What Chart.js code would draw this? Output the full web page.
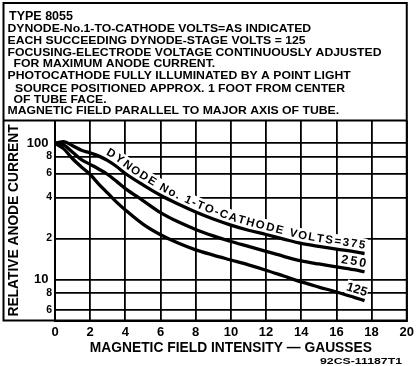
<!DOCTYPE html>
<html>
<head>
<meta charset="utf-8">
<script src="https://cdn.jsdelivr.net/npm/chart.js@4.4.1/dist/chart.umd.min.js"></script>
<style>
    html, body { margin: 0; padding: 0; background: #fff; }
    canvas { display: block; }
</style>
</head>
<body>
<canvas id="gainChart" width="418" height="366"></canvas>
<script>
// values (gauss / relative anode current)
const fieldGauss = [0, 0.5, 1, 1.5, 2, 2.5, 3, 3.5, 4, 5, 6, 7, 8, 9, 10, 11, 12, 13, 14, 15, 16, 17, 17.6];
const current375 = [100, 103, 96, 89, 85, 80.5, 74.5, 67.5, 60, 49.5, 41.5, 35.8, 31.3, 27.8, 25.1, 23, 21.4, 19.8, 18.4, 17.5, 16.7, 16.0, 15.5];
const current250 = [100, 97, 86, 76, 70, 64.5, 59, 52.5, 46.5, 38, 31, 26.5, 23.3, 20.9, 19, 17.5, 16.1, 14.8, 13.7, 13.0, 12.4, 11.8, 11.4];
const current125 = [100, 91, 77, 67, 59, 50, 43, 37, 32.4, 25.5, 21.3, 18.5, 16.5, 15.1, 13.9, 12.8, 11.7, 10.6, 9.6, 8.8, 8.1, 7.4, 7.0];

const curveLabels = ['DYNODE No. 1-TO-CATHODE VOLTS=375', '250', '125'];
const xTicks = [0, 2, 4, 6, 8, 10, 12, 14, 16, 18, 20];
const yTickValues = [6, 8, 10, 20, 40, 60, 80, 100];
const yTickLabels = ['6', '8', '10', '2', '4', '6', '8', '100'];

const headerLines = [
    'TYPE 8055',
    'DYNODE-No.1-TO-CATHODE VOLTS=AS INDICATED',
    'EACH SUCCEEDING DYNODE-STAGE VOLTS = 125',
    'FOCUSING-ELECTRODE VOLTAGE CONTINUOUSLY ADJUSTED',
    'FOR MAXIMUM ANODE CURRENT.',
    'PHOTOCATHODE FULLY ILLUMINATED BY A POINT LIGHT',
    'SOURCE POSITIONED APPROX. 1 FOOT FROM CENTER',
    'OF TUBE FACE.',
    'MAGNETIC FIELD PARALLEL TO MAJOR AXIS OF TUBE.'
];
const sheetCode = '92CS-11187T1';

const FONT = '"Liberation Sans", Arial, sans-serif';

// where the header lines start / sit (px)
const headerX = [9, 7.5, 7.5, 7.5, 13.5, 7.5, 15, 13.5, 7.5];
const headerY = [20, 31.8, 43.6, 55.5, 67, 79.2, 91.5, 102.8, 114.2];

// label spans along each curve, in gauss
const labelSpans = [[2.75, 17.55], [16.2, 17.6], [16.45, 17.6]];


// sample the bezier that chart.js drew for a dataset
function sampleCurve(points) {
    const out = [{ x: points[0].x, y: points[0].y }];
    for (let i = 0; i < points.length - 1; i++) {
        const a = points[i], b = points[i + 1];
        const c1x = a.cp2x ?? a.x, c1y = a.cp2y ?? a.y;
        const c2x = b.cp1x ?? b.x, c2y = b.cp1y ?? b.y;
        for (let k = 1; k <= 20; k++) {
            const t = k / 20, u = 1 - t;
            out.push({
                x: u * u * u * a.x + 3 * u * u * t * c1x + 3 * u * t * t * c2x + t * t * t * b.x,
                y: u * u * u * a.y + 3 * u * u * t * c1y + 3 * u * t * t * c2y + t * t * t * b.y
            });
        }
    }
    let s = 0;
    out.forEach((p, i) => {
        if (i > 0) s += Math.hypot(p.x - out[i - 1].x, p.y - out[i - 1].y);
        p.s = s;
    });
    return out;
}

function arcAtX(path, x) {
    for (let i = 1; i < path.length; i++) {
        if (path[i].x >= x) {
            const a = path[i - 1], b = path[i];
            const t = (x - a.x) / ((b.x - a.x) || 1);
            return a.s + t * (b.s - a.s);
        }
    }
    return path[path.length - 1].s;
}

function pointAtArc(path, s) {
    s = Math.max(0, Math.min(s, path[path.length - 1].s));
    for (let i = 1; i < path.length; i++) {
        if (path[i].s >= s) {
            const a = path[i - 1], b = path[i];
            const t = (s - a.s) / ((b.s - a.s) || 1);
            return { x: a.x + t * (b.x - a.x), y: a.y + t * (b.y - a.y) };
        }
    }
    return path[path.length - 1];
}

// letters placed along a curve, with a white band under them that breaks the grid
function textAlongCurve(ctx, path, text, x0, x1, lift, capH) {
    const chars = [...text];
    const widths = chars.map(ch => ctx.measureText(ch).width);
    const s0 = arcAtX(path, x0), s1 = arcAtX(path, x1);
    const total = widths.reduce((a, b) => a + b, 0);
    const gap = chars.length > 1 ? (s1 - s0 - total) / (chars.length - 1) : 0;
    let s = s0;
    chars.forEach((ch, i) => {
        const mid = s + widths[i] / 2;
        const p = pointAtArc(path, mid);
        const p1 = pointAtArc(path, mid - 4), p2 = pointAtArc(path, mid + 4);
        const ang = Math.atan2(p2.y - p1.y, p2.x - p1.x);
        ctx.save();
        ctx.translate(p.x + Math.sin(ang) * lift, p.y - Math.cos(ang) * lift);
        ctx.rotate(ang);
        ctx.fillStyle = '#fff';
        ctx.fillRect(-widths[i] / 2 - gap / 2 - 0.6, -capH - 2, widths[i] + gap + 1.2, capH + 2 + lift);
        ctx.fillStyle = '#000';
        ctx.fillText(ch, 0, 0);
        ctx.restore();
        s += widths[i] + gap;
    });
}

function fittedText(ctx, text, x, y, sx) {
    ctx.save();
    ctx.translate(x, y);
    ctx.scale(sx, 1);
    ctx.fillText(text, 0, 0);
    ctx.restore();
}

const sheetPlugin = {
    id: 'sheet',
    beforeDatasetsDraw(chart) {
        const ctx = chart.ctx;
        const xs = chart.scales.x;
        ctx.save();
        ctx.textAlign = 'center';
        ctx.textBaseline = 'alphabetic';
        curveLabels.forEach((label, i) => {
            const path = sampleCurve(chart.getDatasetMeta(i).data);
            const size = i === 0 ? 11.5 : 12.5;
            ctx.font = 'bold ' + size + 'px ' + FONT;
            textAlongCurve(ctx, path, label,
                xs.getPixelForValue(labelSpans[i][0]),
                xs.getPixelForValue(labelSpans[i][1]),
                4.5, size * 0.73);
        });
        ctx.restore();
    },
    afterDraw(chart) {
        const ctx = chart.ctx;
        const area = chart.chartArea;
        ctx.save();
        // outer frame and the rule under the notes
        ctx.strokeStyle = '#000';
        ctx.lineWidth = 2;
        ctx.strokeRect(3.5, 3, area.right - 3.5, area.bottom - 3);
        ctx.beginPath();
        ctx.moveTo(3.5, area.top);
        ctx.lineTo(area.right, area.top);
        ctx.stroke();

        // notes
        ctx.fillStyle = '#000';
        ctx.textAlign = 'left';
        ctx.textBaseline = 'alphabetic';
        ctx.font = 'bold 10px ' + FONT;
        const sx = 374 / ctx.measureText(headerLines[3]).width;
        headerLines.forEach((line, i) => {
            if (i === 0) {
                ctx.font = 'bold 12px ' + FONT;
                fittedText(ctx, line, headerX[i], headerY[i], 64 / ctx.measureText(line).width);
                ctx.font = 'bold 10px ' + FONT;
            } else {
                fittedText(ctx, line, headerX[i], headerY[i], sx);
            }
        });

        // drawing number
        ctx.font = 'bold 9.5px ' + FONT;
        const w = ctx.measureText(sheetCode).width;
        fittedText(ctx, sheetCode, 320, 364, 82 / w);
        ctx.restore();
    }
};

const ctx = document.getElementById('gainChart').getContext('2d');
const gainChart = new Chart(ctx, {
    type: 'line',
    data: {
        datasets: [current375, current250, current125].map(series => ({
            data: fieldGauss.map((g, i) => ({ x: g, y: series[i] })),
            borderColor: '#000',
            borderWidth: 3.3,
            pointRadius: 0,
            fill: false,
            cubicInterpolationMode: 'monotone'
        }))
    },
    options: {
        responsive: false,
        animation: false,
        layout: { padding: { left: 0, top: 120.5, right: 11, bottom: 0 } },
        plugins: {
            legend: { display: false },
            tooltip: { enabled: false }
        },
        scales: {
            x: {
                type: 'linear',
                min: 0,
                max: 20,
                afterBuildTicks: scale => {
                    scale.ticks = xTicks.map(v => ({ value: v }));
                },
                afterFit: scale => { scale.height = 45.5; },
                grid: { color: '#000', lineWidth: 1.8, drawTicks: false },
                border: { color: '#000', width: 2 },
                ticks: {
                    color: '#000',
                    padding: 4,
                    maxRotation: 0,
                    autoSkip: false,
                    font: { family: FONT, size: 13, weight: 'bold' }
                },
                title: {
                    display: true,
                    text: 'MAGNETIC FIELD INTENSITY — GAUSSES',
                    color: '#000',
                    font: { family: FONT, size: 13.8, weight: 'bold' },
                    padding: { top: 0, bottom: 10 }
                }
            },
            y: {
                type: 'logarithmic',
                min: 5,
                max: 147,
                afterBuildTicks: scale => {
                    scale.ticks = yTickValues.map(v => ({ value: v, major: v === 10 || v === 100 }));
                },
                afterFit: scale => { scale.width = 55; },
                grid: { color: '#000', lineWidth: 1.8, drawTicks: false },
                border: { color: '#000', width: 2 },
                ticks: {
                    color: '#000',
                    padding: 3,
                    autoSkip: false,
                    callback: (value, index) => {
                        const label = yTickLabels[index];
                        // the decade labels sit a little further out
                        return label.length > 1 ? label + ' ' : label;
                    },
                    font: c => ({
                        family: FONT,
                        weight: 'bold',
                        size: c.tick && (c.tick.value === 10 || c.tick.value === 100) ? 13 : 10.5
                    })
                },
                title: {
                    display: true,
                    text: 'RELATIVE ANODE CURRENT',
                    color: '#000',
                    font: { family: FONT, size: 13.8, weight: 'bold' },
                    padding: { top: 6, bottom: 0 }
                }
            }
        }
    },
    plugins: [sheetPlugin]
});
</script>
</body>
</html>
